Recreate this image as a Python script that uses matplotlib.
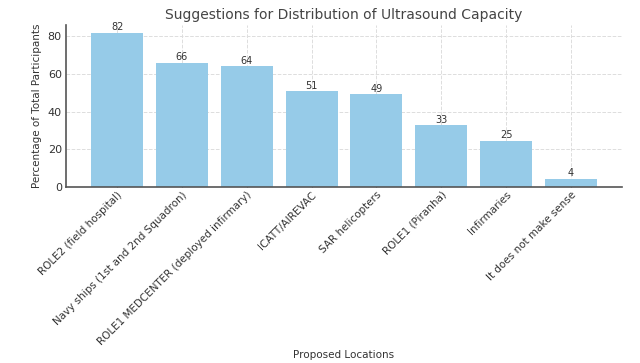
import matplotlib
matplotlib.use('Agg')
import matplotlib.pyplot as plt
import numpy as np

# Proposed locations and percentage of participants
locations = ['ROLE2 (field hospital)', 'Navy ships (1st and 2nd Squadron)',
             'ROLE1 MEDCENTER (deployed infirmary)', 'ICATT/AIREVAC',
             'SAR helicopters', 'ROLE1 (Piranha)', 'Infirmaries',
             'It does not make sense']
percentages = [82, 66, 64, 50.8, 49.2, 32.8, 24.6, 4.4]

txt = '#333333'
plt.rcParams['font.family'] = 'DejaVu Sans'

fig = plt.figure(figsize=(6.4, 3.63), dpi=100)
ax = fig.add_axes([0.103, 0.485, 0.869, 0.446])

x = np.arange(len(locations))
bars = ax.bar(x, percentages, width=0.8, color='#96cbe8', zorder=2)

# value labels above bars
for b, v in zip(bars, percentages):
    ax.text(b.get_x() + b.get_width() / 2, v + 0.3, f'{v:.0f}',
            ha='center', va='bottom', fontsize=7, color=txt)

ax.set_xticks(x)
ax.set_xticklabels(locations, rotation=45, ha='right', rotation_mode='anchor',
                   fontsize=7.5, color=txt)
ax.set_ylim(0, 86)
ax.set_yticks([0, 20, 40, 60, 80])
ax.tick_params(axis='y', labelsize=8, labelcolor=txt, length=0, pad=3)
ax.tick_params(axis='x', direction='in', length=3, color='#555555', pad=2)

ax.set_title('Suggestions for Distribution of Ultrasound Capacity',
             fontsize=10, color='#444444', pad=4)
ax.set_ylabel('Percentage of Total Participants', fontsize=7.5, color=txt,
              labelpad=4)
ax.set_xlabel('Proposed Locations', fontsize=7.5, color=txt, labelpad=2)

ax.grid(True, linestyle='--', color='#dddddd', linewidth=0.7, zorder=0)
for s in ['top', 'right']:
    ax.spines[s].set_visible(False)
for s in ['left', 'bottom']:
    ax.spines[s].set_color('#555555')
    ax.spines[s].set_linewidth(1.2)

plt.savefig('out.png', dpi=100)
